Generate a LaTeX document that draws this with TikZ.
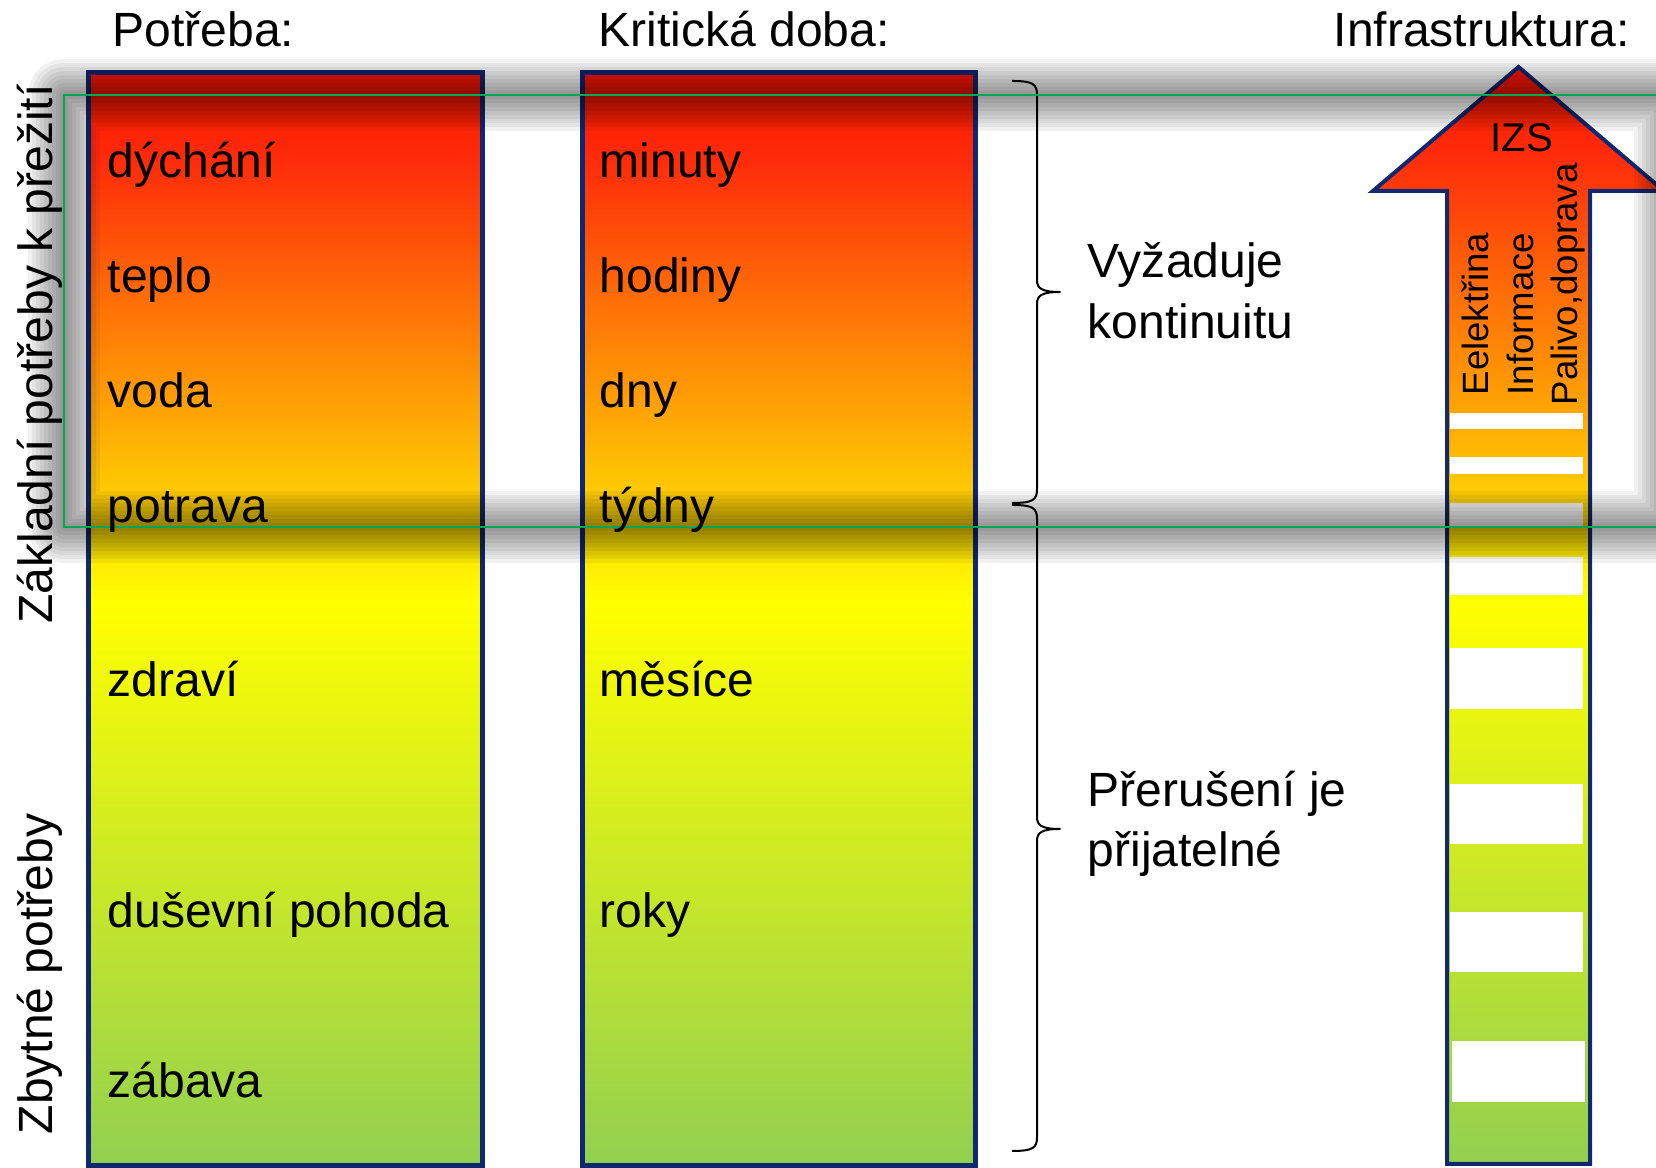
\documentclass[tikz,border=0pt]{standalone}
\usepackage{fontspec}
\setmainfont{Liberation Sans}

\definecolor{needred}{RGB}{255,20,0}
\definecolor{needorange}{RGB}{255,44,10}
\definecolor{needyellow}{RGB}{255,255,0}
\definecolor{needgreen}{RGB}{146,208,80}
\definecolor{framenavy}{RGB}{16,40,112}
\definecolor{markgreen}{RGB}{0,166,81}

% red -> yellow -> green, top to bottom
\pgfdeclareverticalshading{needshade}{100bp}{color(0bp)=(needgreen); color(25bp)=(needgreen); color(50.8bp)=(needyellow); color(70.9bp)=(needorange); color(75bp)=(needred); color(100bp)=(needred)}

\begin{document}
\begin{tikzpicture}[x=0.01cm, y=-0.01cm,
    lbl/.style={inner sep=0pt, font=\fontsize{13.66pt}{16pt}\selectfont},
    smalllbl/.style={inner sep=0pt, font=\fontsize{10.4pt}{12pt}\selectfont},
    column/.style={draw=framenavy, line width=0.05cm, shading=needshade},
    curly/.style={line width=0.02cm, line join=round},
    stripe/.style={fill=white}]
                \useasboundingbox (0,0) rectangle (1656,1168);
                \clip (0,0) rectangle (1656,1168);

                % Drawing column Potreba
                \draw [column] (88.5,72.5) rectangle (482.5,1165.5);%

                % Drawing column Kriticka doba
                \draw [column] (582.5,72.5) rectangle (975.5,1165.5);%

                % Drawing arrow Infrastruktura
                \draw [column, line width=0.04cm] (1518.5,67) -- (1664,191) -- (1590,191) -- (1590,1164) -- (1447,1164) -- (1447,191) -- (1373,191) -- cycle;%

                % Drawing white stripes in the arrow
                \foreach \a/\b in {413/429, 457/474, 503/526, 557/595, 648/709, 784/844, 912/972}
                  \fill [stripe] (1450,\a) rectangle (1583,\b);%
                \fill [stripe] (1452,1041) rectangle (1585,1102);%

                % Drawing braces Vyzaduje kontinuitu and Preruseni je prijatelne
                \coordinate (kontA) at (1012,81);
                \coordinate (kontB) at (1012,503);
                \coordinate (prerA) at (1012,505);
                \coordinate (prerB) at (1012,1151);
                \foreach \a/\m/\b in {81/292/503, 505/829/1151}
                  \draw [curly] (1012,\a) .. controls (1033,\a) and (1037,\a+3) .. (1037,\a+14) -- (1037,\m-12)
                     .. controls (1037,\m-4) and (1041,\m) .. (1060,\m)
                     .. controls (1041,\m) and (1037,\m+4) .. (1037,\m+12) -- (1037,\b-14)
                     .. controls (1037,\b-3) and (1033,\b) .. (1012,\b);%

                % Drawing soft shadow of the marked frame
                \foreach \w in {8,16,...,72}
                  \draw [black, opacity=0.055, line width=\w*0.1mm, line join=round] (64,95) rectangle (1670,527);%

                % Drawing marked frame
                \draw [markgreen, line width=0.02cm] (64,95) rectangle (1670,527);%

                % Marking headers
                \draw (112,47) node [lbl, anchor=base west] (potreba) {Potřeba:};%
                \draw (598,47) node [lbl, anchor=base west] (doba) {Kritická doba:};%
                \draw (1333,47) node [lbl, anchor=base west] (infra) {Infrastruktura:};%

                % Marking side labels
                \draw (52,354) node [lbl, rotate=90, anchor=base] (zakladni) {Základní potřeby k přežití};%
                \draw (52,974) node [lbl, rotate=90, anchor=base] (zbytne) {Zbytné potřeby};%

                % Marking needs
                \draw (107,178) node [lbl, anchor=base west] (dychani) {dýchání};%
                \draw (107,293) node [lbl, anchor=base west] (teplo) {teplo};%
                \draw (107,408) node [lbl, anchor=base west] (voda) {voda};%
                \draw (107,523) node [lbl, anchor=base west] (potrava) {potrava};%
                \draw (107,697) node [lbl, anchor=base west] (zdravi) {zdraví};%
                \draw (107,928) node [lbl, anchor=base west] (pohoda) {duševní pohoda};%
                \draw (107,1098) node [lbl, anchor=base west] (zabava) {zábava};%

                % Marking critical times
                \draw (599,178) node [lbl, anchor=base west] (minuty) {minuty};%
                \draw (599,293) node [lbl, anchor=base west] (hodiny) {hodiny};%
                \draw (599,408) node [lbl, anchor=base west] (dny) {dny};%
                \draw (599,523) node [lbl, anchor=base west] (tydny) {týdny};%
                \draw (599,697) node [lbl, anchor=base west] (mesice) {měsíce};%
                \draw (599,928) node [lbl, anchor=base west] (roky) {roky};%

                % Marking brace texts
                \draw (1087,278) node [lbl, anchor=base west] (vyzaduje) {Vyžaduje};%
                \draw (1087,339) node [lbl, anchor=base west] (kontinuitu) {kontinuitu};%
                \draw (1087,807) node [lbl, anchor=base west] (preruseni) {Přerušení je};%
                \draw (1087,867) node [lbl, anchor=base west] (prijatelne) {přijatelné};%

                % Marking arrow texts
                \draw (1522,152) node [lbl, font=\fontsize{11.4pt}{13pt}\selectfont, anchor=base] (izs) {IZS};%
                \draw (1488,396) node [smalllbl, rotate=90, anchor=base west] (elektrina) {Eelektřina};%
                \draw (1533,396) node [smalllbl, rotate=90, anchor=base west] (informace) {Informace};%
                \draw (1577,406) node [smalllbl, rotate=90, anchor=base west] (palivo) {Palivo,doprava};%
\end{tikzpicture}
\end{document}
